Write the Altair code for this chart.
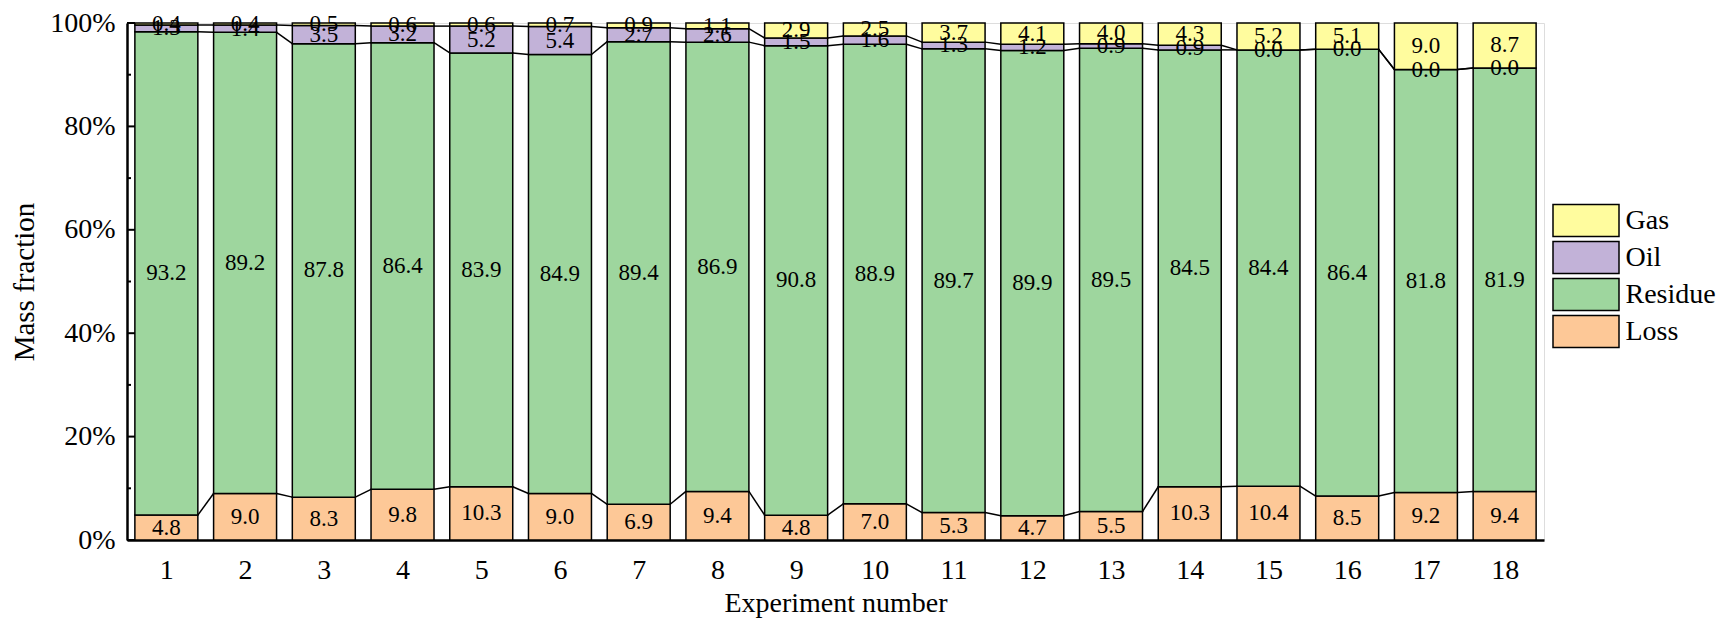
import altair as alt
import pandas as pd

experiments = list(range(1, 19))
loss = [4.8, 9.0, 8.3, 9.8, 10.3, 9.0, 6.9, 9.4, 4.8, 7.0, 5.3, 4.7, 5.5, 10.3, 10.4, 8.5, 9.2, 9.4]
residue = [93.2, 89.2, 87.8, 86.4, 83.9, 84.9, 89.4, 86.9, 90.8, 88.9, 89.7, 89.9, 89.5, 84.5, 84.4, 86.4, 81.8, 81.9]
oil = [1.3, 1.4, 3.5, 3.2, 5.2, 5.4, 2.7, 2.6, 1.5, 1.6, 1.3, 1.2, 0.9, 0.9, 0.0, 0.0, 0.0, 0.0]
gas = [0.4, 0.4, 0.5, 0.6, 0.6, 0.7, 0.9, 1.1, 2.9, 2.5, 3.7, 4.1, 4.0, 4.3, 5.2, 5.1, 9.0, 8.7]

categories = ["Loss", "Residue", "Oil", "Gas"]
legend_order = ["Gas", "Oil", "Residue", "Loss"]
colors = {"Gas": "#FFFC9E", "Oil": "#C2B2D8", "Residue": "#9ED69E", "Loss": "#FDC897"}

y_major = [0.0, 0.2, 0.4, 0.6, 0.8, 1.0]
y_minor = [0.1, 0.3, 0.5, 0.7, 0.9]

HALF = 0.4
FONT = "Liberation Serif"

series = {"Loss": loss, "Residue": residue, "Oil": oil, "Gas": gas}

seg_rows = []
bounds = {}
for i, n in enumerate(experiments):
    total = sum(series[c][i] for c in categories)
    cum = 0.0
    b = []
    for c in categories:
        v = series[c][i]
        start = cum / total
        cum += v
        end = cum / total
        b.append(end)
        seg_rows.append({"exp": n, "cat": c, "value": v, "start": start, "end": end,
                         "mid": (start + end) / 2, "left": n - HALF, "right": n + HALF})
    bounds[n] = b
segs = pd.DataFrame(seg_rows)

line_rows = []
for i in range(len(experiments) - 1):
    a, b = experiments[i], experiments[i + 1]
    for k in range(3):
        line_rows.append({"x": a + HALF, "x2": b - HALF, "y": bounds[a][k], "y2": bounds[b][k]})
lines = pd.DataFrame(line_rows)

xscale = alt.Scale(domain=[0.5, 18.5], nice=False, zero=False)
yscale = alt.Scale(domain=[0, 1], nice=False)

xaxis = alt.Axis(values=experiments, format="d", ticks=False, grid=False, labelFontSize=28,
                 labelFont=FONT, labelColor="black", labelPadding=16, title="Experiment number",
                 titleFont=FONT, titleFontSize=28, titleFontWeight="normal", titleColor="black",
                 titlePadding=5, domainColor="black", domainWidth=2.5)
yaxis = alt.Axis(values=y_major, format=".0%", ticks=False, grid=False, labelFontSize=28,
                 labelFont=FONT, labelColor="black", labelPadding=12, title="Mass fraction",
                 titleFont=FONT, titleFontSize=29, titleFontWeight="normal", titleColor="black",
                 titlePadding=10, domainColor="black", domainWidth=2.5)

bars = alt.Chart(segs).mark_bar(stroke="black", strokeWidth=1.5).encode(
    x=alt.X("left:Q", scale=xscale, axis=xaxis),
    x2="right:Q",
    y=alt.Y("start:Q", scale=yscale, axis=yaxis),
    y2="end:Q",
    color=alt.Color("cat:N", scale=alt.Scale(domain=legend_order, range=[colors[c] for c in legend_order]),
                    legend=alt.Legend(title=None, orient="none", legendX=1441.5, legendY=180,
                                      symbolType="M-2,-0.97H2V0.97H-2Z", symbolSize=1089,
                                      symbolStrokeColor="black", symbolStrokeWidth=1.5,
                                      labelFont=FONT, labelFontSize=28, labelColor="black",
                                      labelOffset=22, rowPadding=-4, padding=0)),
)

texts = alt.Chart(segs).mark_text(font=FONT, fontSize=23, color="black", baseline="middle").encode(
    x=alt.X("exp:Q", scale=xscale),
    y=alt.Y("mid:Q", scale=yscale),
    text=alt.Text("value:Q", format=".1f"),
)

connectors = alt.Chart(lines).mark_rule(color="black", strokeWidth=1.5).encode(
    x=alt.X("x:Q", scale=xscale), x2="x2:Q",
    y=alt.Y("y:Q", scale=yscale), y2="y2:Q",
)

major = alt.Chart(pd.DataFrame({"v": y_major})).mark_rule(color="black", strokeWidth=2).encode(
    x=alt.value(0), x2=alt.value(8), y=alt.Y("v:Q", scale=yscale))
minor = alt.Chart(pd.DataFrame({"v": y_minor})).mark_rule(color="black", strokeWidth=2).encode(
    x=alt.value(0), x2=alt.value(4), y=alt.Y("v:Q", scale=yscale))

chart = alt.layer(bars, connectors, texts, major, minor).properties(
    width=1417, height=517,
    autosize=alt.AutoSizeParams(type="none"),
    padding={"left": 119, "top": 15, "right": 172, "bottom": 80},
).configure_view(stroke="black", strokeWidth=2.5).configure(background="white")

chart.save("out.html", embed_options={"renderer": "svg", "actions": False})
